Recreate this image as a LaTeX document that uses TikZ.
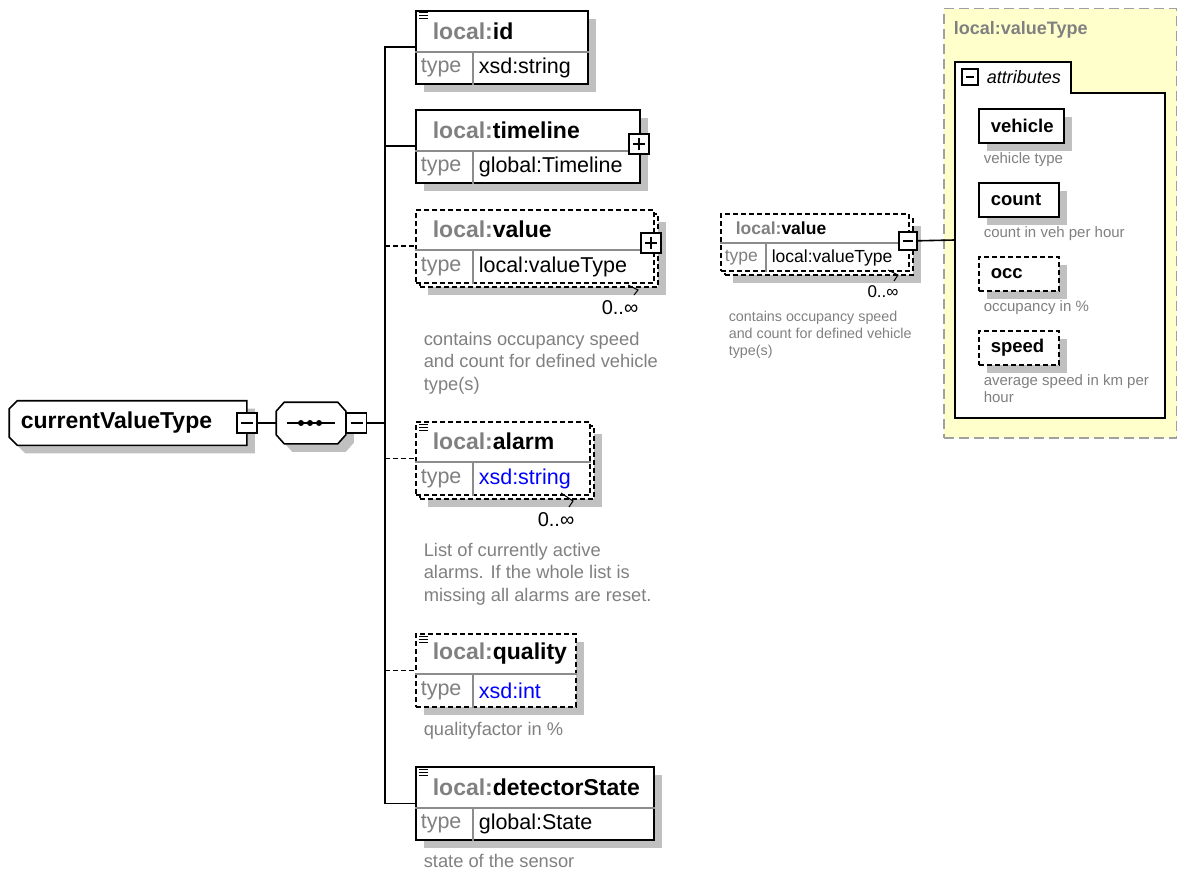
\documentclass[tikz,border=0pt]{standalone}
\usepackage{fontspec}
\setmainfont{Liberation Sans}
\usetikzlibrary{shadows, positioning}

\definecolor{txtgray}{HTML}{808080}
\definecolor{shadegray}{HTML}{C0C0C0}
\definecolor{typeblue}{HTML}{0000FF}
\definecolor{boxyellow}{HTML}{FFFFCC}
\definecolor{boxgray}{HTML}{A0A0A0}
\definecolor{divgray}{HTML}{8C8C8C}

\newcommand{\loc}{\textcolor{txtgray}{local:}}

\tikzstyle{dropsh} = [drop shadow={shadow xshift=8pt, shadow yshift=-8pt, fill=shadegray, opacity=1}]
\tikzstyle{element} = [rectangle, draw, fill=white, line width=1.6pt, inner sep=0, anchor=north west, minimum height=73pt, dropsh]
\tikzstyle{optelement} = [element, dash pattern=on 5pt off 3pt]
\tikzstyle{optfront} = [rectangle, draw, fill=white, line width=1.6pt, inner sep=0, anchor=north west, minimum height=73pt, dash pattern=on 5pt off 3pt]
\tikzstyle{divider} = [line width=1.2pt, draw=divgray]
\tikzstyle{head} = [inner sep=0, anchor=west, font=\fontsize{23}{27}\selectfont\bfseries]
\tikzstyle{smallhead} = [inner sep=0, anchor=west, font=\fontsize{17.5}{20}\selectfont\bfseries]
\tikzstyle{typelabel} = [inner sep=0, anchor=west, text=txtgray, font=\fontsize{21.5}{25}\selectfont]
\tikzstyle{typename} = [inner sep=0, anchor=west, font=\fontsize{21.5}{25}\selectfont]
\tikzstyle{smalltype} = [inner sep=0, anchor=west, font=\fontsize{17.5}{20}\selectfont]
\tikzstyle{docnote} = [inner sep=0, anchor=north west, align=left, text=txtgray, font=\fontsize{18.3}{22.5}\selectfont]
\tikzstyle{smallnote} = [inner sep=0, anchor=north west, align=left, text=txtgray, font=\fontsize{14.3}{17}\selectfont]
\tikzstyle{mult} = [inner sep=0, font=\fontsize{20}{24}\selectfont]
\tikzstyle{docicon} = [line width=1pt]
\tikzstyle{tick} = [line width=1pt]
\tikzstyle{signbox} = [rectangle, draw, fill=white, line width=1.6pt, minimum size=20pt, inner sep=0]
\tikzstyle{minusbox} = [signbox, path picture={\draw[line width=1.4pt] ([xshift=4pt]path picture bounding box.west) -- ([xshift=-4pt]path picture bounding box.east);}]
\tikzstyle{plusbox} = [signbox, path picture={\draw[line width=1.4pt] ([xshift=4pt]path picture bounding box.west) -- ([xshift=-4pt]path picture bounding box.east) ([yshift=-4pt]path picture bounding box.north) -- ([yshift=4pt]path picture bounding box.south);}]
\tikzstyle{frame} = [rectangle, inner sep=0]
\tikzstyle{outline} = [draw, fill=white, line width=1.6pt, dropsh]
\tikzstyle{typebox} = [rectangle, draw=boxgray, fill=boxyellow, line width=1.5pt, dash pattern=on 10pt off 5pt, anchor=north west, inner sep=0]
\tikzstyle{attrframe} = [draw, fill=white, line width=1.5pt]
\tikzstyle{attrbox} = [rectangle, draw, fill=white, line width=1.6pt, anchor=north west, inner xsep=12pt, inner ysep=0, minimum height=34pt, text width=56pt, align=left, font=\fontsize{18.5}{21}\selectfont\bfseries, dropsh]
\tikzstyle{optattrbox} = [attrbox, dash pattern=on 5pt off 3pt]
\tikzstyle{attrnote} = [inner sep=0, anchor=west, text=txtgray, font=\fontsize{15}{17}\selectfont]

\begin{document}
\begin{tikzpicture}[x=1pt, y=-1pt, line width=1.6pt]
\useasboundingbox (0,0) rectangle (1177,874);

%% ROOT TYPE AND SEQUENCE
\node (cvt) [frame, minimum width=236pt, minimum height=43pt] at (128,423) {};
\draw [outline] ([xshift=8pt]cvt.north west) -- (cvt.north east) -- (cvt.south east) -- ([xshift=8pt]cvt.south west) -- ([yshift=8pt]cvt.south west) -- ([yshift=-8pt]cvt.north west) -- cycle;
\node (cvtname) [head] at (20,423) {currentValueType};
\node (cvtm) [minusbox] at (cvt.east) {};
\node (seq) [frame, minimum width=68pt, minimum height=40pt] at (311,423) {};
\draw [outline] ([xshift=8pt]seq.north west) -- ([xshift=-8pt]seq.north east) -- ([yshift=-9pt]seq.north east) -- ([yshift=9pt]seq.south east) -- ([xshift=-8pt]seq.south east) -- ([xshift=8pt]seq.south west) -- ([yshift=9pt]seq.south west) -- ([yshift=-9pt]seq.north west) -- cycle;
\node (seqm) [minusbox, right=0pt of seq] {};
\draw (seq.center) ++(-24,0) -- ++(48,0);
\fill (301,423) circle (3pt) (310,423) circle (3pt) (319,423) circle (3pt);
\draw (cvtm) -- (seq);

%% ELEMENTS
\node (id) [element, minimum width=172pt] at (415,10) {};
\node (timeline) [element, minimum width=224pt] at (415,109) {};
\node (value2) [optelement, minimum width=238pt] at (419,213) {};
\node (value) [optfront, minimum width=238pt] at (415,209) {};
\node (alarm2) [optelement, minimum width=174pt] at (419,425) {};
\node (alarm) [optfront, minimum width=174pt] at (415,421) {};
\node (quality) [optelement, minimum width=160pt] at (415,633) {};
\node (detector) [element, minimum width=238pt] at (415,766) {};

\draw [divider] ([yshift=-42pt]id.north west) -- ([yshift=-42pt]id.north east) ([xshift=58pt,yshift=-42pt]id.north west) -- ([xshift=58pt]id.south west);
\draw [divider] ([yshift=-42pt]timeline.north west) -- ([yshift=-42pt]timeline.north east) ([xshift=58pt,yshift=-42pt]timeline.north west) -- ([xshift=58pt]timeline.south west);
\draw [divider] ([yshift=-41pt]value.north west) -- ([yshift=-41pt]value.north east) ([xshift=58pt,yshift=-41pt]value.north west) -- ([xshift=58pt]value.south west);
\draw [divider] ([yshift=-41pt]alarm.north west) -- ([yshift=-41pt]alarm.north east) ([xshift=58pt,yshift=-41pt]alarm.north west) -- ([xshift=58pt]alarm.south west);
\draw [divider] ([yshift=-41pt]quality.north west) -- ([yshift=-41pt]quality.north east) ([xshift=58pt,yshift=-41pt]quality.north west) -- ([xshift=58pt]quality.south west);
\draw [divider] ([yshift=-42pt]detector.north west) -- ([yshift=-42pt]detector.north east) ([xshift=58pt,yshift=-42pt]detector.north west) -- ([xshift=58pt]detector.south west);

\node (idh) [head] at (432,31) {\loc id};
\node (idl) [typelabel] at (420,68) {type};
\node (idt) [typename] at (478,68) {xsd:string};
\node (timelineh) [head] at (432,130) {\loc timeline};
\node (timelinel) [typelabel] at (420,167) {type};
\node (timelinet) [typename] at (478,167) {global:Timeline};
\node (timelinep) [plusbox] at (639,144) {};
\node (valueh) [head] at (432,229) {\loc value};
\node (valuel) [typelabel] at (420,267) {type};
\node (valuet) [typename] at (478,267) {local:valueType};
\node (valuep) [plusbox] at (651,243) {};
\node (alarmh) [head] at (432,441) {\loc alarm};
\node (alarml) [typelabel] at (420,479) {type};
\node (alarmt) [typename, text=typeblue] at (478,479) {xsd:string};
\node (qualityh) [head] at (432,654) {\loc quality};
\node (qualityl) [typelabel] at (420,691) {type};
\node (qualityt) [typename, text=typeblue] at (478,691) {xsd:int};
\node (detectorh) [head] at (432,787) {\loc detectorState};
\node (detectorl) [typelabel] at (420,824) {type};
\node (detectort) [typename] at (478,824) {global:State};

\draw [docicon] (419,13) -- +(9,0) (419,16) -- +(9,0) (419,19) -- +(9,0);
\draw [docicon] (419,424) -- +(9,0) (419,427) -- +(9,0) (419,430) -- +(9,0);
\draw [docicon] (419,636) -- +(9,0) (419,639) -- +(9,0) (419,642) -- +(9,0);
\draw [docicon] (419,769) -- +(9,0) (419,772) -- +(9,0) (419,775) -- +(9,0);

\node (valuem) [mult] at (620,308) {0..∞};
\node (alarmm) [mult] at (556,520) {0..∞};
\draw [tick] (628,285) -- (638,290) -- (634,295);
\draw [tick] (561,493) -- (573,501) -- (569,507);

\node (valued) [docnote] at (423,331) {contains occupancy speed\\and count for defined vehicle\\type(s)};
\node (alarmd) [docnote] at (423,542) {List of currently active\\alarms. If the whole list is\\missing all alarms are reset.};
\node (qualityd) [docnote] at (423,721) {qualityfactor in \%};
\node (detectord) [docnote] at (423,853) {state of the sensor};

%% BUS
\coordinate (bus) at (385,423);
\draw (seqm) -- (bus);
\draw (bus) |- (id.west);
\draw (bus) |- (timeline.west);
\draw (bus) |- (detector.west);
\draw (bus) -- (bus |- value.west);
\draw [dash pattern=on 5pt off 3pt] (bus |- value.west) -- (value.west);
\draw [dash pattern=on 5pt off 3pt] (bus |- alarm.west) -- (alarm.west);
\draw [dash pattern=on 5pt off 3pt] (bus |- quality.west) -- (quality.west);

%% VALUE DETAIL
\node (rvalue2) [optelement, minimum width=188pt, minimum height=57pt] at (724,217) {};
\node (rvalue) [optfront, minimum width=188pt, minimum height=57pt] at (720,213) {};
\draw [divider] ([yshift=-30pt]rvalue.north west) -- ([yshift=-30pt]rvalue.north east) ([xshift=46pt,yshift=-30pt]rvalue.north west) -- ([xshift=46pt]rvalue.south west);
\node (rvalueh) [smallhead] at (735,228) {\loc value};
\node (rvaluel) [smalltype, text=txtgray] at (724,258) {type};
\node (rvaluet) [smalltype] at (771,258) {local:valueType};
\node (rvaluem) [minusbox, minimum size=18pt] at (908,241) {};
\node (rvaluemult) [mult, font=\fontsize{17}{20}\selectfont] at (883,292) {0..∞};
\draw [tick] (888,270) -- (898,275) -- (894,281);
\node (rvalued) [smallnote] at (728,310) {contains occupancy speed\\and count for defined vehicle\\type(s)};

%% VALUE TYPE
\node (vtype) [typebox, minimum width=233pt, minimum height=429pt] at (943,8) {};
\node (vtypeh) [smallhead, text=txtgray, font=\fontsize{18}{21}\selectfont\bfseries] at (953,30) {local:valueType};
\draw [attrframe] (955,62) -- (1071,62) -- (1071,93) -- (1165,93) -- (1165,418) -- (955,418) -- cycle;
\node (attrm) [minusbox, minimum size=16pt] at (970,77) {};
\node (attrt) [inner sep=0, anchor=west, font=\fontsize{18}{21}\selectfont\itshape] at (986,77) {attributes};
\coordinate (attrs) at (955,240);
\draw (rvaluem) -- (attrs);

\node (vehicle) [attrbox, text width=61pt] at (978,108) {vehicle};
\node (count) [attrbox] at (978,182) {count};
\node (occ) [optattrbox] at (978,256) {occ};
\node (speed) [optattrbox] at (978,330) {speed};
\node (vehicled) [attrnote] at (983,160) {vehicle type};
\node (countd) [attrnote] at (983,234) {count in veh per hour};
\node (occd) [attrnote] at (983,308) {occupancy in \%};
\node (speedd) [attrnote, anchor=north west, align=left] at (983,374) {average speed in km per\\hour};
\end{tikzpicture}
\end{document}
